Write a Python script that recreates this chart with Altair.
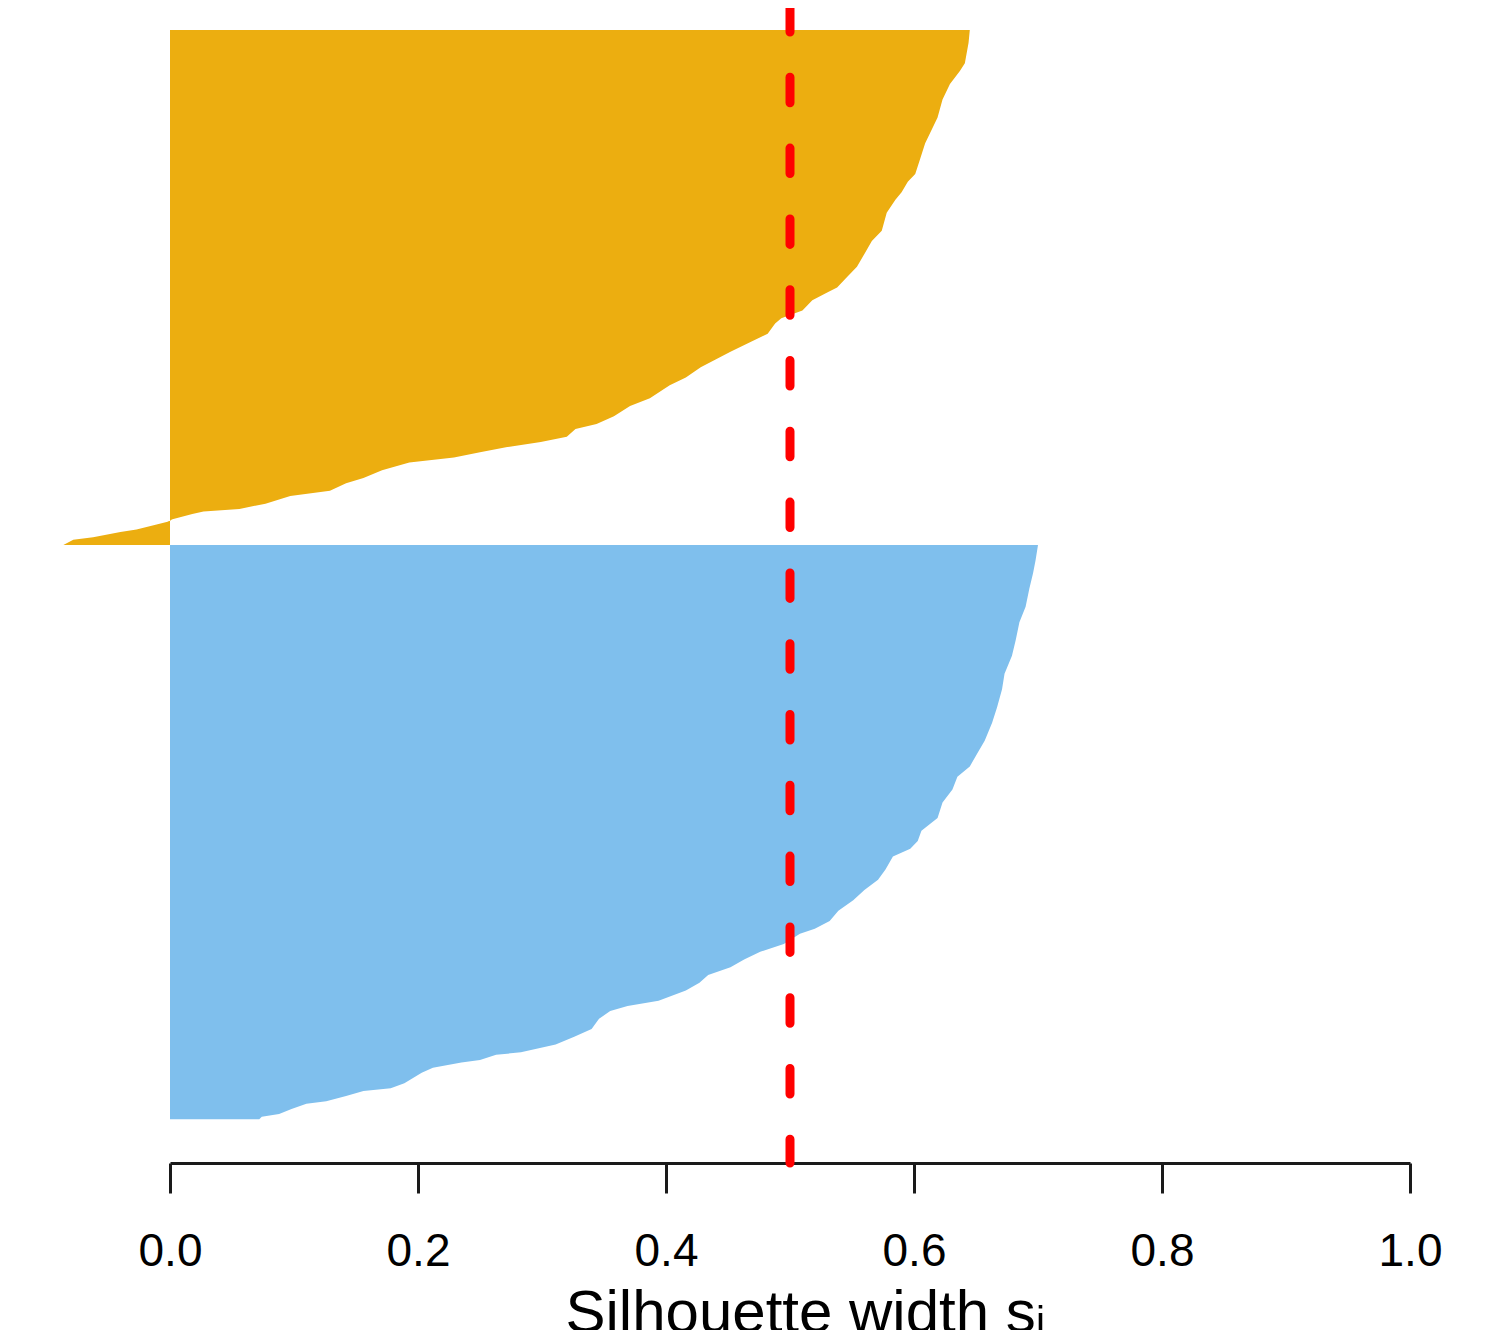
import altair as alt
import pandas as pd

# Cluster 1 (orange): observation rank (sorted) and silhouette width
c1_rank = [0, 5, 13, 16, 21, 27, 34, 40, 44, 50, 56, 59, 63, 66, 71, 78, 82, 87, 92, 96,
           100, 102, 105, 109, 112, 114, 118, 121, 125, 128, 131, 135, 138, 143, 146, 150,
           153, 155, 158, 160, 162, 164, 166, 168, 171, 174, 176, 179, 181, 184, 186, 187,
           188, 190, 191, 192, 194, 195, 197, 198, 200]
c1_width = [0.645, 0.644, 0.641, 0.637, 0.629, 0.623, 0.619, 0.613, 0.609, 0.605, 0.601,
            0.595, 0.590, 0.585, 0.578, 0.574, 0.566, 0.560, 0.554, 0.546, 0.538, 0.530,
            0.518, 0.510, 0.493, 0.488, 0.482, 0.469, 0.452, 0.440, 0.428, 0.416, 0.403,
            0.387, 0.371, 0.358, 0.344, 0.327, 0.320, 0.299, 0.272, 0.250, 0.229, 0.193,
            0.171, 0.156, 0.142, 0.129, 0.097, 0.077, 0.056, 0.027, 0.018, 0.002, -0.002,
            -0.010, -0.027, -0.040, -0.062, -0.078, -0.086]

# Cluster 2 (blue)
c2_rank = [200, 206, 211, 217, 224, 230, 237, 243, 250, 256, 263, 269, 276, 281, 286, 290,
           295, 300, 306, 311, 315, 318, 321, 326, 330, 334, 338, 342, 346, 349, 351, 355,
           358, 361, 364, 367, 370, 373, 377, 379, 381, 384, 388, 391, 394, 397, 398, 400,
           401, 403, 405, 407, 409, 411, 412, 414, 416, 417, 419, 421, 422, 423]
c2_width = [0.700, 0.698, 0.696, 0.693, 0.690, 0.685, 0.682, 0.679, 0.673, 0.671, 0.667,
            0.663, 0.657, 0.651, 0.645, 0.635, 0.631, 0.623, 0.619, 0.606, 0.603, 0.597,
            0.583, 0.577, 0.571, 0.560, 0.551, 0.539, 0.532, 0.520, 0.508, 0.495, 0.476,
            0.463, 0.452, 0.434, 0.427, 0.416, 0.394, 0.369, 0.355, 0.346, 0.340, 0.326,
            0.311, 0.283, 0.263, 0.250, 0.235, 0.212, 0.203, 0.196, 0.189, 0.178, 0.156,
            0.142, 0.126, 0.110, 0.098, 0.088, 0.074, 0.072]

cluster_colors = ["#ECAE10", "#7FBFED"]

mean_width = [0.5]
tick_values = [0.0, 0.2, 0.4, 0.6, 0.8, 1.0]

df1 = pd.DataFrame({"rank": c1_rank, "width": c1_width})
df2 = pd.DataFrame({"rank": c2_rank, "width": c2_width})
df_mean = pd.DataFrame({"width": mean_width})

x_scale = alt.Scale(domain=[0, 1], nice=False)
x_axis = alt.Axis(
    values=tick_values, format=".1f", grid=False,
    labelFont="Liberation Sans", labelFontSize=46, labelColor="#000000",
    labelPadding=36, labelFlush=False, labelOverlap=False, labelBound=False,
    tickSize=30, tickWidth=3, tickColor="#1a1a1a",
    domainWidth=3, domainColor="#1a1a1a",
    title="Silhouette width sᵢ", titleFont="Liberation Sans", titleFontSize=60,
    titleFontWeight="normal", titleColor="#000000", titleBaseline="alphabetic",
    titleAnchor="start", titleAlign="left", titleX=395, titleY=168,
)
y_scale = alt.Scale(domain=[-8.5, 440], nice=False, zero=False, reverse=True)


def cluster_area(df, color):
    return alt.Chart(df).mark_area(orient="horizontal", color=color).encode(
        x=alt.X("width:Q", scale=x_scale, axis=x_axis, stack=None),
        y=alt.Y("rank:Q", scale=y_scale, axis=None),
    )


area1 = cluster_area(df1, cluster_colors[0])
area2 = cluster_area(df2, cluster_colors[1])

rule = alt.Chart(df_mean).mark_rule(
    color="#FF0000", strokeWidth=9, strokeDash=[25.5, 45.3], strokeDashOffset=1.5, strokeCap="round"
).encode(x=alt.X("width:Q", scale=x_scale, axis=x_axis))

chart = alt.layer(area1, area2, rule).properties(
    width=1240,
    height=1155,
    padding={"left": 162, "top": 0, "right": 40, "bottom": 167},
    autosize=alt.AutoSizeParams(type="none"),
    background="white",
).configure_view(stroke=None)

chart.save("out.html", embed_options={"renderer": "svg", "actions": False})
